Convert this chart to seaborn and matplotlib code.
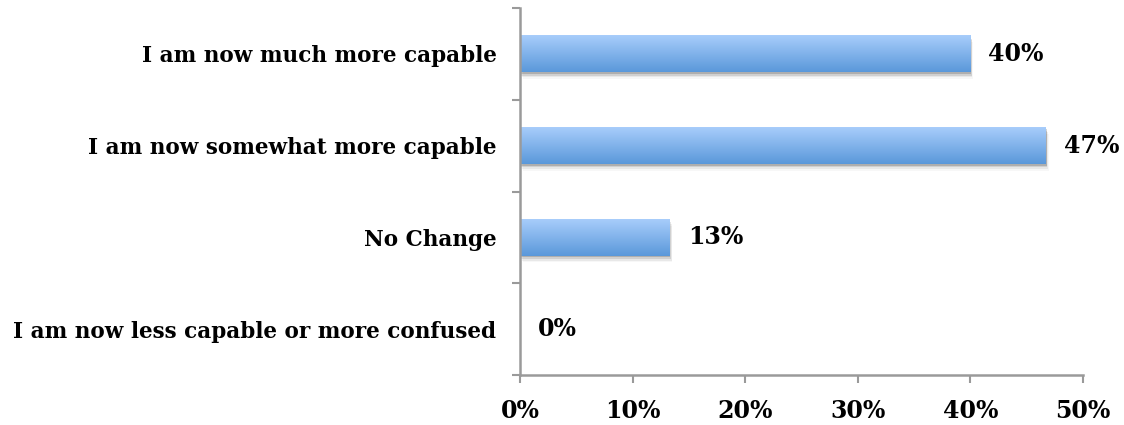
import numpy as np
import pandas as pd
import matplotlib
matplotlib.use("Agg")
import matplotlib.pyplot as plt
import seaborn as sns
from matplotlib.colors import LinearSegmentedColormap
from matplotlib.patches import Rectangle

categories = ["I am now much more capable", "I am now somewhat more capable",
              "No Change", "I am now less capable or more confused"]
values = [40.0, 46.7, 13.3, 0.0]
value_labels = ["40%", "47%", "13%", "0%"]
xticks = [0, 10, 20, 30, 40, 50]
xtick_labels = ["0%", "10%", "20%", "30%", "40%", "50%"]

sns.set_theme(style="white")
plt.rcParams['font.family'] = ['DejaVu Serif']
plt.rcParams['font.weight'] = 'bold'
plt.rcParams['text.color'] = 'black'
plt.rcParams['xtick.color'] = '#9A9A9A'
plt.rcParams['ytick.color'] = '#9A9A9A'
plt.rcParams['xtick.labelcolor'] = 'black'
plt.rcParams['ytick.labelcolor'] = 'black'

df = pd.DataFrame({"cat": categories, "val": values})
fig = plt.figure(figsize=(11.24, 4.25), dpi=100)
ax = fig.add_axes([520/1124, 1-375/425, (1083-520)/1124, (375-8)/425])
sns.barplot(data=df, y="cat", x="val", orient="h", ax=ax, width=0.4,
            color="#7AB0EE", edgecolor="none")

cmap = LinearSegmentedColormap.from_list("g", ["#5A98DA", "#A8CDFB"])
grad = np.linspace(0, 1, 256).reshape(-1, 1)
for p in list(ax.patches):
    x0, y0 = p.get_x(), p.get_y()
    w, h = p.get_width(), p.get_height()
    if w <= 0:
        p.set_visible(False)
        continue
    for k, a in enumerate([0.16, 0.10, 0.06, 0.03]):
        sh = Rectangle((x0 + 0.06 * (k + 1), y0 + 0.018 * (k + 1)), w, h,
                       facecolor="#000000", alpha=a, edgecolor="none", zorder=1)
        ax.add_patch(sh)
    ax.imshow(grad, cmap=cmap, aspect="auto", extent=[x0, x0 + w, y0 + h, y0],
              origin="lower", zorder=2, interpolation="bilinear")
    p.set_visible(False)

for i, (v, lab) in enumerate(zip(values, value_labels)):
    ax.text(v + 1.6, i, lab, va="center", ha="left", fontsize=17, fontweight="bold",
            color="black")

ax.set_xlim(0, 50)
ax.set_ylim(3.5, -0.5)
ax.set_xticks(xticks)
ax.set_xticklabels(xtick_labels, fontsize=17, fontweight="bold")
ax.set_yticks(range(len(categories)))
ax.set_yticklabels(categories, fontsize=15.5, fontweight="bold")
ax.set_yticks([-0.5, 0.5, 1.5, 2.5, 3.5], minor=True)
ax.tick_params(axis="y", which="major", left=False, length=0, pad=17)
ax.tick_params(axis="y", which="minor", left=True, length=6, color="#9A9A9A", width=1.5, direction="out")
ax.tick_params(axis="x", which="major", bottom=True, length=6, color="#9A9A9A", width=1.5, direction="out", pad=11)
ax.set_xlabel("")
ax.set_ylabel("")
for s in ["top", "right"]:
    ax.spines[s].set_visible(False)
for s in ["left", "bottom"]:
    ax.spines[s].set_color("#9A9A9A")
    ax.spines[s].set_linewidth(1.8)
ax.grid(False)
fig.savefig("out.png", dpi=100, facecolor="white")
